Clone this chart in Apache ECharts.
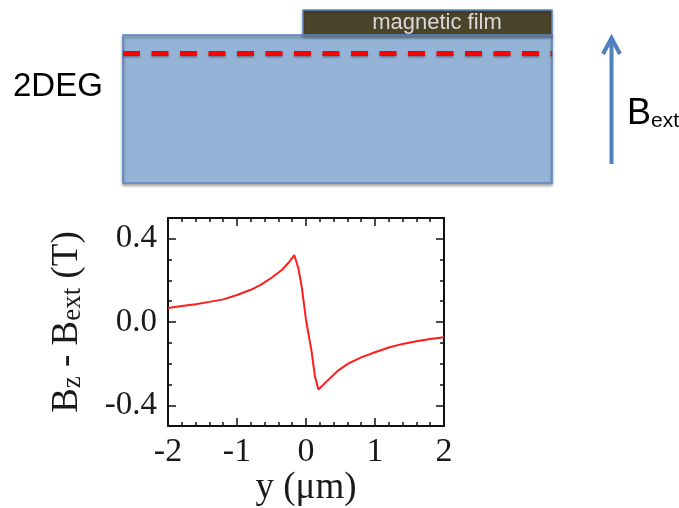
<!DOCTYPE html>
<html>
<head>
<meta charset="utf-8">
<script src="https://cdn.jsdelivr.net/npm/echarts@6/dist/echarts.min.js"></script>
<style>html,body{margin:0;padding:0;background:#fff}#c{width:679px;height:508px}</style>
</head>
<body>
<div id="c"></div>
<script>
// position y (µm)
const yPos = [-2, -1.8, -1.6, -1.4, -1.2, -1.0, -0.8, -0.65, -0.5, -0.35, -0.25, -0.17, -0.11, -0.06, 0.0, 0.08, 0.13, 0.18, 0.3, 0.47, 0.61, 0.8, 1.0, 1.2, 1.4, 1.6, 1.8, 2.0];
// Bz - Bext (T)
const bz = [0.068, 0.077, 0.086, 0.097, 0.109, 0.13, 0.155, 0.18, 0.213, 0.25, 0.286, 0.322, 0.257, 0.165, 0.01, -0.14, -0.262, -0.324, -0.285, -0.232, -0.2, -0.17, -0.145, -0.122, -0.105, -0.092, -0.081, -0.073];
const xTicks = [-2, -1, 0, 1, 2];
const yTickLabels = [-0.4, 0, 0.4];

const serif = '"Liberation Serif", "DejaVu Serif", serif';
const sans = '"Liberation Sans", Arial, sans-serif';
const chart = echarts.init(document.getElementById('c'), null, {renderer: 'canvas'});

const baseY = (pos) => ({
  type: 'value', position: pos, min: -0.5, max: 0.5, interval: 0.1,
  axisLine: {show: true, onZero: false, lineStyle: {color: '#111', width: 2}},
  axisTick: {show: true, inside: true, length: 4, lineStyle: {color: '#111', width: 1.5}},
  axisLabel: {show: false}, splitLine: {show: false}
});
const majorY = (pos) => ({
  type: 'value', position: pos, min: -0.5, max: 0.5,
  axisLine: {show: false, onZero: false},
  axisTick: {show: true, inside: true, length: 8, customValues: yTickLabels, lineStyle: {color: '#111', width: 1.5}},
  axisLabel: {show: false}, splitLine: {show: false}
});

const yLeft = baseY('left');
yLeft.axisLabel = {
  show: true, customValues: yTickLabels, margin: 11,
  formatter: v => v.toFixed(1),
  fontFamily: serif, fontSize: 33, color: '#1a1a1a'
};
yLeft.name = 'B{s|z} - B{s|ext} (T)';
yLeft.nameLocation = 'middle';
yLeft.nameRotate = 90;
yLeft.nameGap = 82;
yLeft.nameTextStyle = {
  fontFamily: serif, fontSize: 37, color: '#1a1a1a',
  rich: {s: {fontFamily: serif, fontSize: 27, color: '#1a1a1a', verticalAlign: 'bottom', lineHeight: 18}}
};

const xCommon = (pos) => ({
  type: 'value', position: pos, min: -2, max: 2, interval: 1,
  axisLine: {show: true, onZero: false, lineStyle: {color: '#111', width: 2}},
  axisTick: {show: true, inside: true, length: 8, lineStyle: {color: '#111', width: 1.5}},
  minorTick: {show: true, splitNumber: 5, length: 4, lineStyle: {color: '#111', width: 1.5}},
  axisLabel: {show: false}, splitLine: {show: false}, minorSplitLine: {show: false}
});
const xBottom = xCommon('bottom');
xBottom.axisLabel = {show: true, margin: 9, fontFamily: serif, fontSize: 34, color: '#1a1a1a',
  customValues: xTicks, formatter: v => String(v)};
xBottom.name = 'y (\u03bcm)';
xBottom.nameLocation = 'middle';
xBottom.nameGap = 42;
xBottom.nameTextStyle = {fontFamily: serif, fontSize: 37, color: '#1a1a1a', verticalAlign: 'top'};

const option = {
  backgroundColor: '#ffffff',
  animation: false,
  grid: {left: 168, top: 218, width: 276, height: 215, containLabel: false},
  xAxis: [xBottom, xCommon('top')],
  yAxis: [yLeft, majorY('left'), baseY('right'), majorY('right')],
  series: [{
    type: 'line', xAxisIndex: 0, yAxisIndex: 0,
    data: yPos.map((x, i) => [x, bz[i]]),
    showSymbol: false, symbol: 'none', smooth: false,
    lineStyle: {color: '#ff1c1c', width: 2}
  }],
  graphic: [
    {type: 'rect', shape: {x: 123, y: 35, width: 429, height: 148},
     style: {fill: '#95b3d7', stroke: '#5b86c0', lineWidth: 1.5, shadowBlur: 3, shadowColor: 'rgba(0,0,0,0.35)', shadowOffsetY: 2}},
    {type: 'rect', shape: {x: 303, y: 10, width: 249, height: 25},
     style: {fill: '#4a442a', stroke: '#5b86c0', lineWidth: 1.5, shadowBlur: 3, shadowColor: 'rgba(0,0,0,0.3)', shadowOffsetY: 2}},
    {type: 'text', style: {text: 'magnetic film', x: 437, y: 23, textAlign: 'center', textVerticalAlign: 'middle',
      fill: '#d9d9d9', font: '22px ' + sans}},
    {type: 'line', shape: {x1: 123, y1: 53.5, x2: 552, y2: 53.5},
     style: {stroke: '#ff0000', lineWidth: 5, lineDash: [17, 11.5], shadowBlur: 2, shadowColor: 'rgba(0,0,0,0.35)', shadowOffsetY: 1.5}},
    {type: 'line', shape: {x1: 611.5, y1: 164, x2: 611.5, y2: 40},
     style: {stroke: '#4f81bd', lineWidth: 4}},
    {type: 'polyline', shape: {points: [[603, 54], [611.5, 38], [620, 54]]},
     style: {stroke: '#4f81bd', lineWidth: 4, fill: null, lineJoin: 'miter'}},
    {type: 'text', style: {text: '2DEG', x: 13, y: 87, textAlign: 'left', textVerticalAlign: 'middle',
      fill: '#000', font: '33px ' + sans}},
    {type: 'text', style: {text: 'B{s|ext}', x: 627, y: 114, textAlign: 'left', textVerticalAlign: 'middle',
      fill: '#000', font: '36px ' + sans,
      rich: {s: {fontSize: 21, fontFamily: sans, fill: '#000', verticalAlign: 'bottom', lineHeight: 18}}}}
  ]
};
chart.setOption(option);
</script>
</body>
</html>
